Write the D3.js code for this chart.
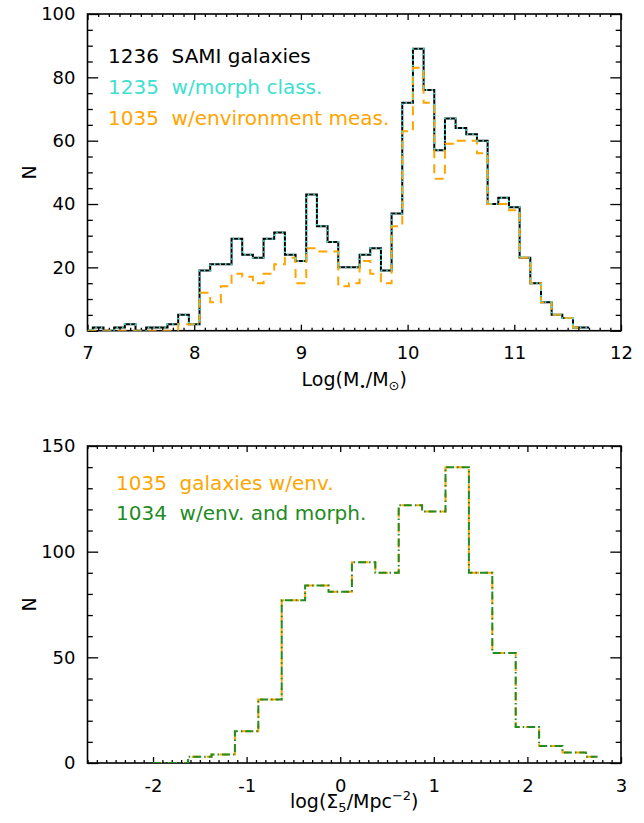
<!DOCTYPE html>
<html>
<head>
<meta charset="utf-8">
<script src="https://cdn.jsdelivr.net/npm/d3@7/dist/d3.min.js"></script>
<style>
  body { margin: 0; background: #fff; }
  svg { display: block; font-family: "DejaVu Sans", sans-serif; }
  .frame { fill: none; stroke: #000; stroke-width: 1.6; }
  .tick line { stroke: #000; stroke-width: 1.3; }
  .hist { fill: none; stroke-width: 2; }
  .legend { white-space: pre; font-size: 20px; }
</style>
</head>
<body>
<svg></svg>
<script>
// top panel: stellar mass, 0.1 dex bins (bin centres)
const massBins = [7.0, 7.1, 7.2, 7.3, 7.4, 7.5, 7.6, 7.7, 7.8, 7.9,
                  8.0, 8.1, 8.2, 8.3, 8.4, 8.5, 8.6, 8.7, 8.8, 8.9,
                  9.0, 9.1, 9.2, 9.3, 9.4, 9.5, 9.6, 9.7, 9.8, 9.9,
                  10.0, 10.1, 10.2, 10.3, 10.4, 10.5, 10.6, 10.7, 10.8, 10.9,
                  11.0, 11.1, 11.2, 11.3, 11.4, 11.5, 11.6, 11.7];
const nSami  = [0, 1, 0, 1, 2, 0, 1, 1, 2, 5,
                2, 19, 21, 21, 29, 24, 23, 29, 31, 24,
                22, 43, 33, 28, 20, 20, 24, 26, 19, 37,
                72, 89, 76, 57, 67, 64, 62, 60, 40, 42,
                39, 23, 15, 9, 5, 4, 1, 1];
const nMorph = [0, 1, 0, 1, 2, 0, 1, 1, 2, 5,
                2, 19, 21, 21, 29, 24, 23, 29, 31, 24,
                22, 43, 33, 28, 20, 20, 24, 26, 19, 37,
                72, 89, 76, 57, 67, 64, 62, 60, 40, 42,
                39, 23, 15, 9, 5, 4, 1, 1];
// environment sample stops at 11.6
const nEnv   = [0, 0, 0, 0, 0, 0, 0, 0, 0, 2,
                2, 12, 9, 14, 18, 17, 15, 18, 21, 23,
                15, 26, 25, 25, 14, 15, 22, 18, 15, 33,
                63, 83, 72, 48, 59, 60, 60, 56, 40, 40,
                38, 23, 15, 9, 5, 4, 1];

// bottom panel: log Sigma_5, 0.25 dex bins
const envBins    = [-2.0, -1.75, -1.5, -1.25, -1.0, -0.75, -0.5, -0.25, 0, 0.25,
                    0.5, 0.75, 1.0, 1.25, 1.5, 1.75, 2.0, 2.25, 2.5, 2.75];
const nEnvGal    = [0, 0, 3, 4, 15, 30, 77, 84, 81, 95,
                    90, 122, 119, 140, 90, 52, 17, 8, 5, 3];
const nEnvMorph  = [0, 0, 3, 4, 15, 30, 77, 84, 81, 95,
                    90, 122, 119, 140, 90, 52, 17, 8, 5, 3];

const massTicks = [7, 8, 9, 10, 11, 12];
const topCountTicks = [0, 20, 40, 60, 80, 100];
const envTicks = [-2, -1, 0, 1, 2, 3];
const botCountTicks = [0, 50, 100, 150];

const topLegend = ['1236  SAMI galaxies', '1235  w/morph class.', '1035  w/environment meas.'];
const botLegend = ['1035  galaxies w/env.', '1034  w/env. and morph.'];

const BLACK = '#000', CYAN = '#40e0d0', ORANGE = '#ffa500', GREEN = '#228b22';

const left = 87.5, right = 621;

const svg = d3.select('svg')
    .attr('width', 644)
    .attr('height', 823);

function makePanel(cfg) {
  const x = d3.scaleLinear().domain(cfg.xDomain).range([left, right]);
  const y = d3.scaleLinear().domain(cfg.yDomain).range([cfg.bottom, cfg.top]);
  const g = svg.append('g');

  const xMinor = cfg.xMinor.filter(d => cfg.xTicks.indexOf(d) < 0);
  const yMinor = cfg.yMinor.filter(d => cfg.yTicks.indexOf(d) < 0);

  const fmt = d => d < 0 ? '-' + Math.abs(d) : '' + d;

  // bottom
  g.append('g').attr('transform', `translate(0,${cfg.bottom})`)
      .call(d3.axisBottom(x).tickValues(cfg.xTicks).tickSize(-6).tickPadding(16).tickFormat(fmt));
  g.append('g').attr('transform', `translate(0,${cfg.bottom})`)
      .call(d3.axisBottom(x).tickValues(xMinor).tickSize(-3).tickFormat(''));
  // top
  g.append('g').attr('transform', `translate(0,${cfg.top})`)
      .call(d3.axisTop(x).tickValues(cfg.xTicks).tickSize(-6).tickFormat(''));
  g.append('g').attr('transform', `translate(0,${cfg.top})`)
      .call(d3.axisTop(x).tickValues(xMinor).tickSize(-3).tickFormat(''));
  // left
  g.append('g').attr('transform', `translate(${left},0)`)
      .call(d3.axisLeft(y).tickValues(cfg.yTicks).tickSize(-10.7).tickPadding(12));
  g.append('g').attr('transform', `translate(${left},0)`)
      .call(d3.axisLeft(y).tickValues(yMinor).tickSize(-5.3).tickFormat(''));
  // right
  g.append('g').attr('transform', `translate(${right},0)`)
      .call(d3.axisRight(y).tickValues(cfg.yTicks).tickSize(-10.7).tickFormat(''));
  g.append('g').attr('transform', `translate(${right},0)`)
      .call(d3.axisRight(y).tickValues(yMinor).tickSize(-5.3).tickFormat(''));

  g.selectAll('.domain').remove();
  g.selectAll('.tick text')
      .attr('font-family', '"DejaVu Sans", sans-serif')
      .attr('font-size', 18)
      .attr('fill', '#000');

  g.append('rect')
      .attr('class', 'frame')
      .attr('x', left).attr('y', cfg.top)
      .attr('width', right - left).attr('height', cfg.bottom - cfg.top);

  const clipId = 'clip' + cfg.name;
  svg.append('clipPath').attr('id', clipId)
    .append('rect')
      .attr('x', left).attr('y', cfg.top - 2)
      .attr('width', right - left).attr('height', cfg.bottom - cfg.top + 2);

  const plot = g.append('g').attr('clip-path', `url(#${clipId})`);

  // N label
  g.append('text')
      .attr('transform', `translate(36,${(cfg.top + cfg.bottom) / 2}) rotate(-90)`)
      .attr('text-anchor', 'middle')
      .attr('font-size', 19)
      .text('N');

  return { x, y, g, plot };
}

function step(p, bins, counts, color, dash) {
  const line = d3.line()
      .x(d => p.x(d[0]))
      .y(d => p.y(d[1]))
      .curve(d3.curveStep);
  p.plot.append('path')
      .datum(d3.zip(bins, counts))
      .attr('class', 'hist')
      .attr('stroke', color)
      .attr('stroke-dasharray', dash)
      .attr('d', line);
}

// ---- top panel
const massPanel = makePanel({
  name: 'mass',
  xDomain: [7, 12], yDomain: [0, 100],
  top: 14, bottom: 330.7,
  xTicks: massTicks, yTicks: topCountTicks,
  xMinor: d3.range(70, 121).map(d => d / 10),
  yMinor: d3.range(0, 101, 5)
});

step(massPanel, massBins, nSami, BLACK, null);
step(massPanel, massBins.slice(0, nEnv.length), nEnv, ORANGE, '9,6');
step(massPanel, massBins, nMorph, CYAN, '1.5,4');

massPanel.g.selectAll('.legtop')
    .data(topLegend)
    .enter().append('text')
    .attr('class', 'legend')
    .attr('x', 108)
    .attr('y', (d, i) => 63 + i * 31)
    .attr('fill', (d, i) => [BLACK, CYAN, ORANGE][i])
    .text(d => d);

const t1 = massPanel.g.append('text')
    .attr('x', (left + right) / 2)
    .attr('y', 386)
    .attr('text-anchor', 'middle')
    .attr('font-size', 19);
t1.append('tspan').text('Log(M');
t1.append('tspan').attr('font-size', 11).attr('dy', 4).text('\u2022');
t1.append('tspan').attr('dy', -4).text('/M');
t1.append('tspan').attr('font-size', 13).attr('dy', 4).text('\u2299');
t1.append('tspan').attr('dy', -4).text(')');

// ---- bottom panel
const envPanel = makePanel({
  name: 'env',
  xDomain: [-2.7, 3], yDomain: [0, 150],
  top: 446, bottom: 763,
  xTicks: envTicks, yTicks: botCountTicks,
  xMinor: d3.range(-27, 31).map(d => d / 10),
  yMinor: d3.range(0, 151, 10)
});

step(envPanel, envBins, nEnvGal, ORANGE, '9,6');
step(envPanel, envBins, nEnvMorph, GREEN, '8,3,1.5,3');

envPanel.g.selectAll('.legbot')
    .data(botLegend)
    .enter().append('text')
    .attr('class', 'legend')
    .attr('x', 116)
    .attr('y', (d, i) => 490 + i * 30)
    .attr('fill', (d, i) => [ORANGE, GREEN][i])
    .text(d => d);

const t2 = envPanel.g.append('text')
    .attr('x', (left + right) / 2)
    .attr('y', 808)
    .attr('text-anchor', 'middle')
    .attr('font-size', 19);
t2.append('tspan').text('log(\u03a3');
t2.append('tspan').attr('font-size', 13).attr('dy', 4).text('5');
t2.append('tspan').attr('dy', -4).text('/Mpc');
t2.append('tspan').attr('font-size', 13).attr('dy', -8).text('\u22122');
t2.append('tspan').attr('dy', 8).text(')');
</script>
</body>
</html>
